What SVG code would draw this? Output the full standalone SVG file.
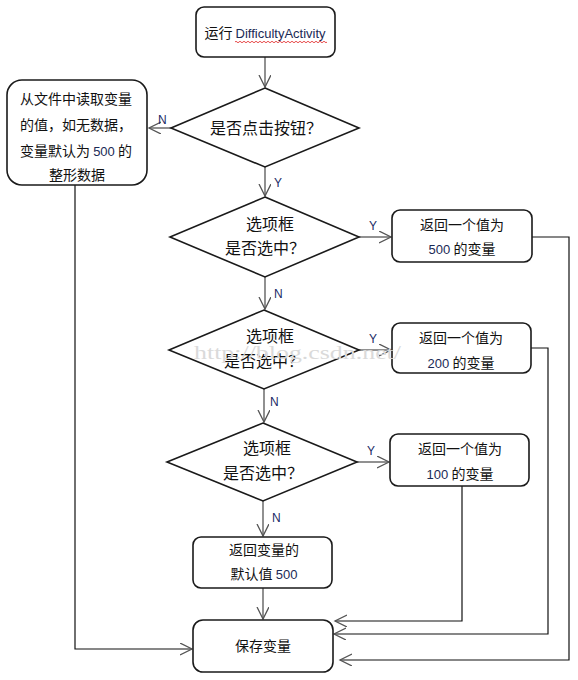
<svg xmlns="http://www.w3.org/2000/svg" width="578" height="680" viewBox="0 0 578 680">
<style>
.box{fill:#fff;stroke:#1a1a1a;stroke-width:1.6}
.t{font-family:"Noto Sans CJK SC","Liberation Sans",sans-serif;font-size:14px;fill:#111;text-anchor:middle}
.d{font-size:16px}
.lat{font-family:"Liberation Sans",sans-serif;font-size:13px;fill:#1a2a55}
.lbl{font-family:"Liberation Sans",sans-serif;font-size:12px;fill:#1a2a66}
.c{fill:none;stroke:#555;stroke-width:1.3}
.r{fill:none;stroke:#111;stroke-width:1.2}
.wm{font-family:"Liberation Serif",serif;font-size:18px;fill:#dadada}
</style>
<defs>
<marker id="ah" markerUnits="userSpaceOnUse" markerWidth="16" markerHeight="16" refX="12" refY="6" orient="auto">
<path d="M0,0 L12,6 L0,12" fill="none" stroke="#555" stroke-width="1.3"/>
</marker>
</defs>
<g id="connectors">
<line class="c" x1="265" y1="57" x2="265" y2="87" marker-end="url(#ah)"/>
<line class="c" x1="171" y1="128" x2="149" y2="128" marker-end="url(#ah)"/>
<line class="c" x1="265" y1="167" x2="265" y2="196" marker-end="url(#ah)"/>
<line class="c" x1="359" y1="237" x2="391" y2="237" marker-end="url(#ah)"/>
<line class="c" x1="265" y1="277" x2="265" y2="309" marker-end="url(#ah)"/>
<line class="c" x1="359" y1="350" x2="391" y2="350" marker-end="url(#ah)"/>
<line class="c" x1="264" y1="389" x2="264" y2="422" marker-end="url(#ah)"/>
<line class="c" x1="357" y1="462" x2="389" y2="462" marker-end="url(#ah)"/>
<line class="c" x1="263" y1="501" x2="263" y2="536" marker-end="url(#ah)"/>
<line class="c" x1="263" y1="588" x2="263" y2="619" marker-end="url(#ah)"/>
<polyline class="r" points="75,185 75,649 192,649" marker-end="url(#ah)"/>
<polyline class="r" points="532,237 569,237 569,660 340,660" marker-end="url(#ah)"/>
<polyline class="r" points="531,348 548,348 548,634 334,634" marker-end="url(#ah)"/>
<polyline class="r" points="462,486 462,621 335,621" marker-end="url(#ah)"/>
<text class="lbl" x="158" y="124">N</text>
<text class="lbl" x="274" y="187">Y</text>
<text class="lbl" x="369" y="230">Y</text>
<text class="lbl" x="274" y="298">N</text>
<text class="lbl" x="369" y="343">Y</text>
<text class="lbl" x="270" y="406">N</text>
<text class="lbl" x="367" y="455">Y</text>
<text class="lbl" x="272" y="522">N</text>
</g>
<g id="start">
<rect class="box" x="196" y="7" width="139" height="50" rx="8"/>
<text class="t" x="265" y="38">运行 <tspan class="lat">DifficultyActivity</tspan></text>
<path d="M235,42 q1,-1.5 2,0 t2,0 t2,0 t2,0 t2,0 t2,0 t2,0 t2,0 t2,0 t2,0 t2,0 t2,0 t2,0 t2,0 t2,0 t2,0 t2,0 t2,0 t2,0 t2,0 t2,0 t2,0 t2,0 t2,0 t2,0 t2,0 t2,0 t2,0 t2,0 t2,0 t2,0 t2,0 t2,0 t2,0 t2,0 t2,0 t2,0 t2,0 t2,0 t2,0 t2,0 t2,0 t2,0 t2,0 t2,0 t2,0" fill="none" stroke="#e02020" stroke-width="0.8"/>
</g>
<g id="q-click">
<polygon class="box" points="265,88 359,128 265,167 171,128"/>
<text class="t d" x="266" y="134">是否点击按钮？</text>
</g>
<g id="read-file">
<rect class="box" x="7" y="80" width="140" height="105" rx="15"/>
<text class="t" x="76" y="104">从文件中读取变量</text>
<text class="t" x="76" y="130">的值，如无数据，</text>
<text class="t" x="76" y="156">变量默认为 <tspan class="lat">500</tspan> 的</text>
<text class="t" x="77" y="180">整形数据</text>
</g>
<g id="q1">
<polygon class="box" points="265,197 359,237 265,277 170,237"/>
<text class="t d" x="270" y="230">选项框</text>
<text class="t d" x="265" y="254">是否选中？</text>
</g>
<g id="r500">
<rect class="box" x="392" y="210" width="140" height="52" rx="8"/>
<text class="t" x="462" y="230">返回一个值为</text>
<text class="t" x="462" y="254"><tspan class="lat">500</tspan> 的变量</text>
</g>
<g id="q2">
<polygon class="box" points="264,310 359,350 264,389 169,350"/>
<text class="t d" x="270" y="342">选项框</text>
<text class="t d" x="264" y="367">是否选中？</text>
</g>
<g id="r200">
<rect class="box" x="392" y="323" width="139" height="50" rx="8"/>
<text class="t" x="461" y="343">返回一个值为</text>
<text class="t" x="461" y="368"><tspan class="lat">200</tspan> 的变量</text>
</g>
<g id="q3">
<polygon class="box" points="263,423 357,462 263,501 167,462"/>
<text class="t d" x="267" y="454">选项框</text>
<text class="t d" x="263" y="479">是否选中？</text>
</g>
<g id="r100">
<rect class="box" x="390" y="434" width="139" height="52" rx="8"/>
<text class="t" x="460" y="454">返回一个值为</text>
<text class="t" x="460" y="479"><tspan class="lat">100</tspan> 的变量</text>
</g>
<g id="default">
<rect class="box" x="193" y="537" width="139" height="51" rx="8"/>
<text class="t" x="264" y="555">返回变量的</text>
<text class="t" x="264" y="579">默认值 <tspan class="lat">500</tspan></text>
</g>
<g id="save">
<rect class="box" x="193" y="620" width="140" height="52" rx="10"/>
<text class="t" x="263" y="651">保存变量</text>
</g>
<text class="wm" x="194" y="359" textLength="207" lengthAdjust="spacingAndGlyphs">http://blog.csdn.net/</text>
</svg>
